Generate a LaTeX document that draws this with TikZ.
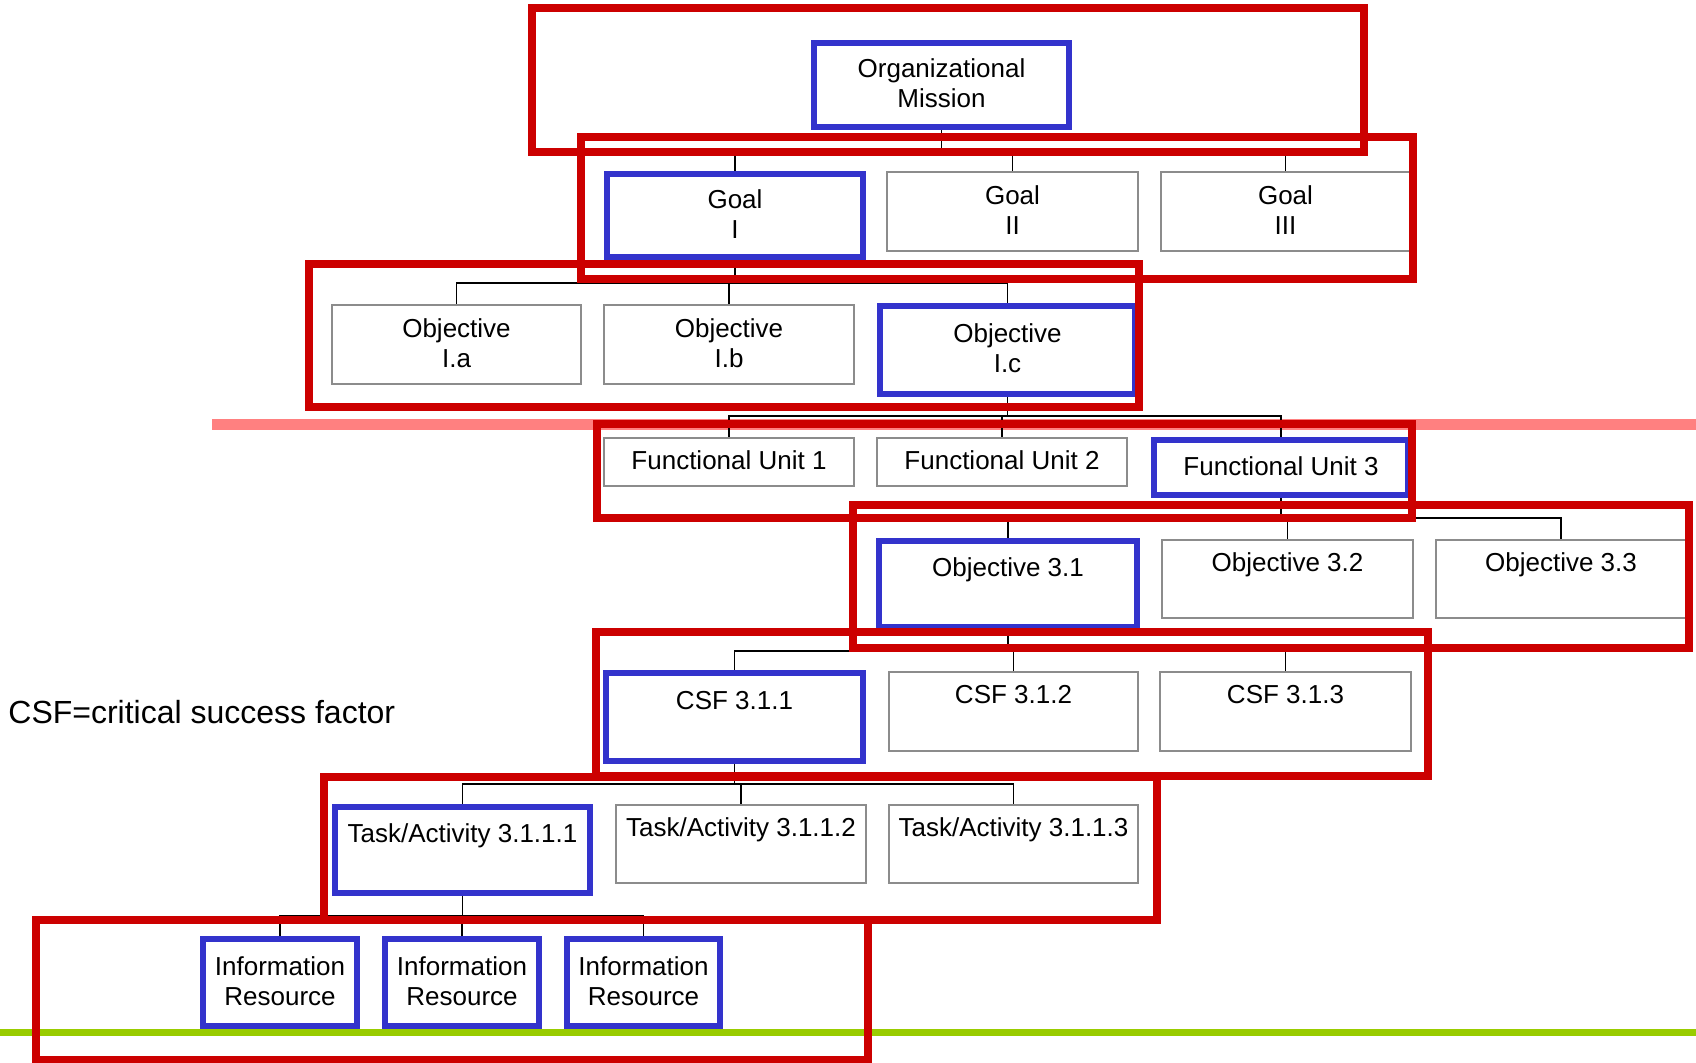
\documentclass[tikz,border=0pt]{standalone}
\usepackage{fontspec}
\setmainfont{Liberation Sans}
\usetikzlibrary{fit}
\definecolor{frame}{HTML}{CC0000}
\definecolor{hilite}{HTML}{3333CC}
\definecolor{boxline}{HTML}{8C8C8C}
\definecolor{cutline}{HTML}{FF8080}
\definecolor{groundline}{HTML}{99CC00}
\pgfdeclarelayer{bg}
\pgfsetlayers{bg,main}
\begin{document}
\begin{tikzpicture}[x=0.5pt,y=-0.5pt,
  box/.style={draw=boxline, line width=1pt, fill=white, inner sep=0pt},
  keybox/.style={box, draw=hilite, line width=3pt},
  lbl/.style={inner sep=0pt, align=center, font=\fontsize{13}{15}\selectfont},
  conn/.style={draw=black, line width=0.75pt},
  zone/.style={draw=frame, line width=4pt}]
\useasboundingbox (0,0) rectangle (1696,1063);

% boxes of the chart
\node[keybox, fit={(814,43) (1069,127)}] (org) {};
\node[keybox, fit={(607,174) (863,257)}] (g1) {};
\node[box, fit={(887,172) (1138,251)}] (g2) {};
\node[box, fit={(1161,172) (1410,251)}] (g3) {};
\node[box, fit={(332,305) (581,384)}] (oa) {};
\node[box, fit={(604,305) (854,384)}] (ob) {};
\node[keybox, fit={(880,306) (1135,394)}] (oc) {};
\node[box, fit={(604,438) (854,486)}] (fu1) {};
\node[box, fit={(877,438) (1127,486)}] (fu2) {};
\node[keybox, fit={(1154,440) (1408,495)}] (fu3) {};
\node[keybox, fit={(879,541) (1137,627)}] (o31) {};
\node[box, fit={(1162,540) (1413,618)}] (o32) {};
\node[box, fit={(1436,540) (1686,618)}] (o33) {};
\node[keybox, fit={(606,673) (863,761)}] (c1) {};
\node[box, fit={(889,672) (1138,751)}] (c2) {};
\node[box, fit={(1160,672) (1411,751)}] (c3) {};
\node[keybox, fit={(335,807) (590,893)}] (t1) {};
\node[box, fit={(616,805) (866,883)}] (t2) {};
\node[box, fit={(889,805) (1138,883)}] (t3) {};
\node[keybox, fit={(203,939) (357,1026)}] (r1) {};
\node[keybox, fit={(385,939) (539,1026)}] (r2) {};
\node[keybox, fit={(567,939) (720,1026)}] (r3) {};

% box texts (an empty second line keeps short labels near the top)
\foreach \n/\t in {org/{Organizational\\Mission}, g1/{Goal\\I}, g2/{Goal\\II}, g3/{Goal\\III},
    oa/{Objective\\I.a}, ob/{Objective\\I.b}, oc/{Objective\\I.c},
    fu1/{Functional Unit 1}, fu2/{Functional Unit 2}, fu3/{Functional Unit 3},
    o31/{Objective 3.1\\\mbox{}}, o32/{Objective 3.2\\\mbox{}}, o33/{Objective 3.3\\\mbox{}},
    c1/{CSF 3.1.1\\\mbox{}}, c2/{CSF 3.1.2\\\mbox{}}, c3/{CSF 3.1.3\\\mbox{}},
    t1/{Task/Activity 3.1.1.1\\\mbox{}}, t2/{Task/Activity 3.1.1.2\\\mbox{}}, t3/{Task/Activity 3.1.1.3\\\mbox{}},
    r1/{Information\\Resource}, r2/{Information\\Resource}, r3/{Information\\Resource}}{
  \node[lbl] (\n-text) at ([yshift=0.8pt]\n.center) {\t};
}

\node[anchor=west, inner sep=0pt, font=\fontsize{16}{19}\selectfont] (note) at (8,712) {CSF=critical success factor};

% bus heights of the tree
\coordinate (b0) at (0,151);
\coordinate (b1) at (0,283);
\coordinate (b2) at (0,416);
\coordinate (b3) at (0,518);
\coordinate (b4) at (0,651);
\coordinate (b5) at (0,784);
\coordinate (b6) at (0,916);

\begin{pgfonlayer}{bg}
  \fill[white] (0,0) rectangle (1696,1063);
  \draw[cutline, line width=5.5pt] (212,425) -- (1696,425);
  \draw[groundline, line width=3.5pt] (0,1032) -- (1696,1032);
  \foreach \p/\b/\kids in {org/b0/{g1,g2,g3}, g1/b1/{oa,ob,oc}, oc/b2/{fu1,fu2,fu3},
      fu3/b3/{o31,o32,o33}, o31/b4/{c1,c2,c3}, c1/b5/{t1,t2,t3}, t1/b6/{r1,r2,r3}}{
    \foreach \k in \kids {
      \draw[conn] (\p.south) -- (\p.south |- \b) -| (\k.north);
    }
  }
\end{pgfonlayer}

% scope frames around each step of the chain
\draw[zone] (532,8) rectangle (1364,152);
\draw[zone] (581,137) rectangle (1413,279);
\draw[zone] (309,264) rectangle (1139,407);
\draw[zone] (597,424) rectangle (1412,518);
\draw[zone] (853,505) rectangle (1689,648);
\draw[zone] (596,632) rectangle (1428,776);
\draw[zone] (324,777) rectangle (1157,920);
\draw[zone] (36,920) rectangle (868,1060);
\end{tikzpicture}
\end{document}
